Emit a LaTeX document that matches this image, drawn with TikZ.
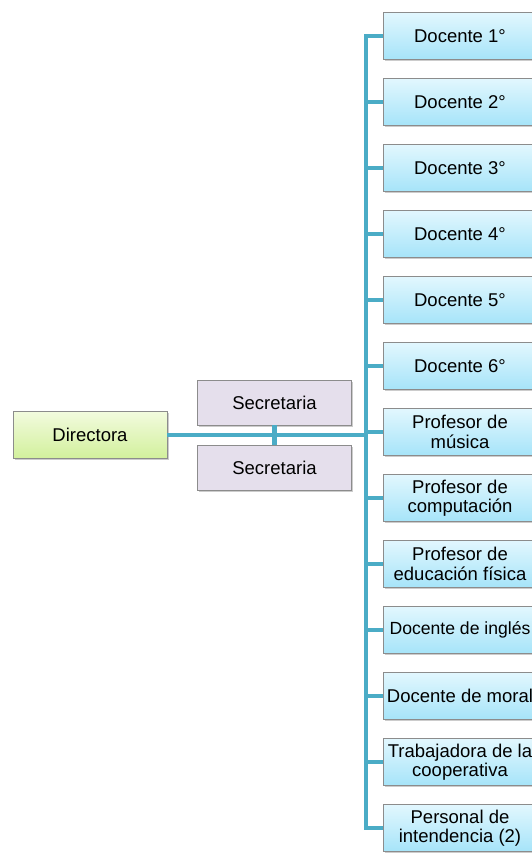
\documentclass[tikz,border=0pt]{standalone}
\usepackage{fontspec}
\setmainfont{Liberation Sans}
\usetikzlibrary{shadows}
\definecolor{linkblue}{RGB}{75,172,198}
\definecolor{boxline}{RGB}{140,140,140}
\definecolor{cyantop}{RGB}{226,247,254}
\definecolor{cyanbot}{RGB}{166,228,249}
\definecolor{greentop}{RGB}{242,251,222}
\definecolor{greenbot}{RGB}{210,240,156}
\definecolor{lavender}{RGB}{229,223,236}
\tikzset{
    unit/.style={draw=boxline, line width=0.8pt, minimum width=154, minimum height=47,
        inner sep=0pt, align=center, font=\fontsize{18.5}{19.5}\selectfont,
        drop shadow={shadow xshift=1.5pt, shadow yshift=-1.5pt, opacity=0.4}},
    staff/.style={unit, top color=cyantop, bottom color=cyanbot},
    head/.style={unit, top color=greentop, bottom color=greenbot},
    assist/.style={unit, fill=lavender, minimum height=45},
    link/.style={draw=linkblue, line width=4.5pt}
}
\begin{document}
\begin{tikzpicture}[x=1pt, y=-1pt]
    \useasboundingbox (0, 0) rectangle (532, 854);
    \clip (0, 0) rectangle (532, 854);
    % trunk
    \coordinate (top) at (366, 36);
    \coordinate (bot) at (366, 828);
    \draw[link, line cap=rect] (top) -- (bot);
    % boxes
    \node[head] (dir) at (90, 435) {Directora};
    \node[assist] (sec1) at (274.5, 402.5) {Secretaria};
    \node[assist] (sec2) at (274.5, 467.5) {Secretaria};
    \node[staff] (d1) at (460, 36) {Docente 1°};
    \node[staff] (d2) at (460, 102) {Docente 2°};
    \node[staff] (d3) at (460, 168) {Docente 3°};
    \node[staff] (d4) at (460, 234) {Docente 4°};
    \node[staff] (d5) at (460, 300) {Docente 5°};
    \node[staff] (d6) at (460, 366) {Docente 6°};
    \node[staff] (music) at (460, 432) {Profesor de\\música};
    \node[staff] (comp) at (460, 498) {Profesor de\\computación};
    \node[staff] (gym) at (460, 564) {Profesor de\\educación física};
    \node[staff] (eng) at (460, 630) {\fontsize{17.6}{19.5}\selectfont Docente de inglés};
    \node[staff] (moral) at (460, 696) {Docente de moral};
    \node[staff] (coop) at (460, 762) {Trabajadora de la\\cooperativa};
    \node[staff] (clean) at (460, 828) {Personal de\\intendencia (2)};
    % connectors
    \draw[link] (dir.east) -- (dir.east -| top);
    \draw[link] (sec1.south) -- (sec2.north);
    \draw[link] (d1.west) -- (d1.west -| top);
    \draw[link] (d2.west) -- (d2.west -| top);
    \draw[link] (d3.west) -- (d3.west -| top);
    \draw[link] (d4.west) -- (d4.west -| top);
    \draw[link] (d5.west) -- (d5.west -| top);
    \draw[link] (d6.west) -- (d6.west -| top);
    \draw[link] (music.west) -- (music.west -| top);
    \draw[link] (comp.west) -- (comp.west -| top);
    \draw[link] (gym.west) -- (gym.west -| top);
    \draw[link] (eng.west) -- (eng.west -| top);
    \draw[link] (moral.west) -- (moral.west -| top);
    \draw[link] (coop.west) -- (coop.west -| top);
    \draw[link] (clean.west) -- (clean.west -| top);
\end{tikzpicture}
\end{document}
